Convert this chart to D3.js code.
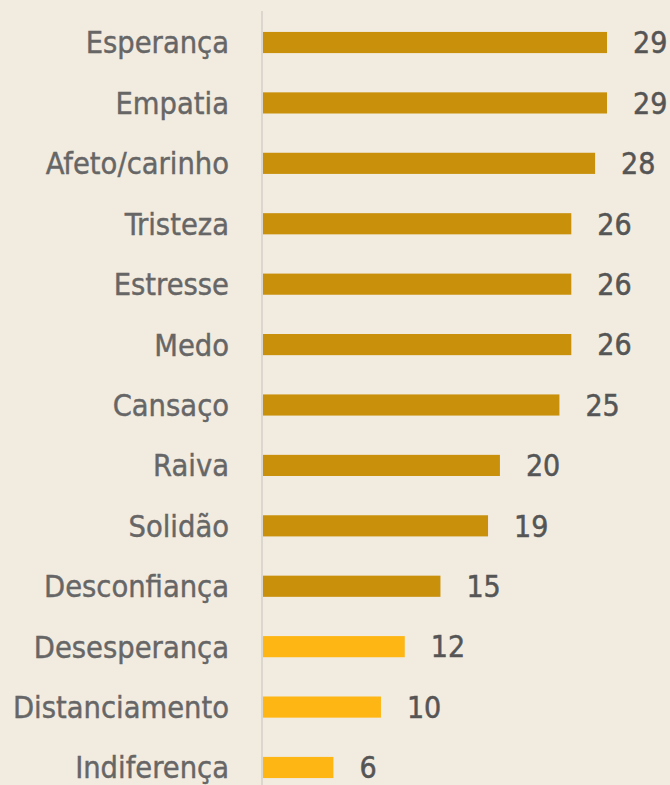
<!DOCTYPE html>
<html>
<head>
<meta charset="utf-8">
<script src="https://cdn.jsdelivr.net/npm/d3@7"></script>
<style>
  html, body { margin: 0; padding: 0; background: #f2ebe0; }
  svg { display: block; }
</style>
</head>
<body>
<div id="chart"></div>
<script>
const categories = ['Esperança', 'Empatia', 'Afeto/carinho', 'Tristeza', 'Estresse', 'Medo',
  'Cansaço', 'Raiva', 'Solidão', 'Desconfiança', 'Desesperança', 'Distanciamento', 'Indiferença'];
const values = [29, 29, 28, 26, 26, 26, 25, 20, 19, 15, 12, 10, 6];
// last three bars are drawn in the lighter yellow
const highlight = [false, false, false, false, false, false, false, false, false, false, true, true, true];

const width = 670;
const height = 785;
const axisX = 262;

const svg = d3.select('#chart')
  .append('svg')
  .attr('width', width)
  .attr('height', height);

svg.append('rect')
  .attr('width', width)
  .attr('height', height)
  .attr('fill', '#f2ebe0');

const x = d3.scaleLinear().domain([0, 29]).range([axisX, 607]);
const y = d3.scaleBand().domain(categories).range([12.3, 797.7]).paddingInner(0.65).paddingOuter(0.325);

// vertical baseline
svg.append('line')
  .attr('x1', axisX).attr('x2', axisX)
  .attr('y1', 11).attr('y2', height)
  .attr('stroke', '#dcd7ce')
  .attr('stroke-width', 2);

const rows = categories.map((c, i) => ({ name: c, value: values[i], light: highlight[i] }));

svg.selectAll('.bar')
  .data(rows)
  .enter()
  .append('rect')
  .attr('class', 'bar')
  .attr('x', x(0) + 1)
  .attr('y', (d) => y(d.name))
  .attr('width', (d) => x(d.value) - x(0) - 1)
  .attr('height', y.bandwidth())
  .attr('fill', (d) => (d.light ? '#fdb614' : '#c8900b'));

svg.selectAll('.cat-label')
  .data(rows)
  .enter()
  .append('text')
  .attr('class', 'cat-label')
  .attr('x', 229)
  .attr('y', (d) => y(d.name) + y.bandwidth() / 2)
  .attr('dy', '0.36em')
  .attr('text-anchor', 'end')
  .style('font-family', '"DejaVu Sans Condensed", "DejaVu Sans", sans-serif')
  .style('font-size', '30.5px')
  .style('fill', '#666')
  .style('stroke', '#666')
  .style('stroke-width', 0.4)
  .text((d) => d.name);

svg.selectAll('.val-label')
  .data(rows)
  .enter()
  .append('text')
  .attr('class', 'val-label')
  .attr('x', (d) => x(d.value) + 26)
  .attr('y', (d) => y(d.name) + y.bandwidth() / 2)
  .attr('dy', '0.36em')
  .style('font-family', '"DejaVu Sans Condensed", "DejaVu Sans", sans-serif')
  .style('font-size', '30px')
  .style('fill', '#555')
  .style('stroke', '#555')
  .style('stroke-width', 0.5)
  .text((d) => d.value);
</script>
</body>
</html>
